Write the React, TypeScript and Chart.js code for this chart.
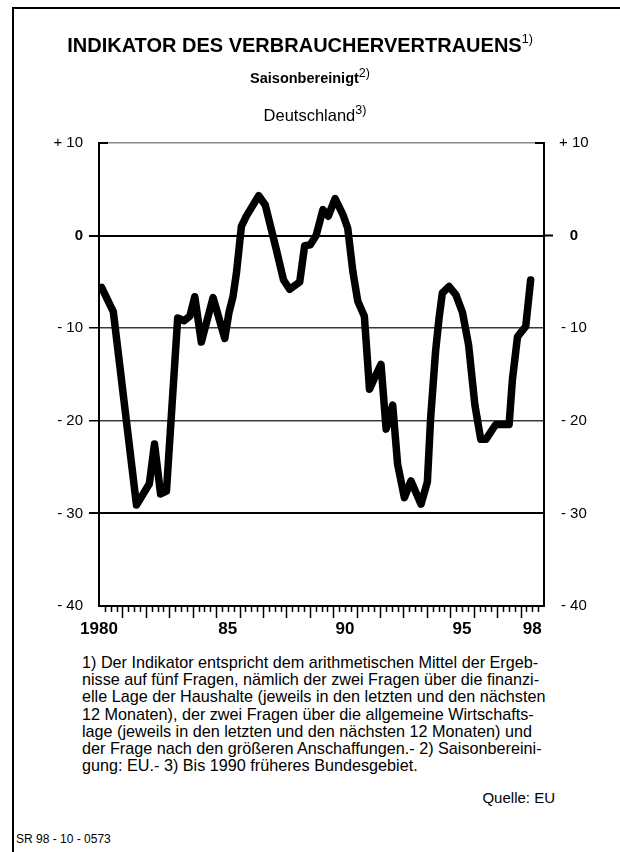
import React, { useEffect, useRef } from "react";
import { Chart, registerables } from "chart.js";

Chart.register(...registerables);

// Decimal-year positions of the traced line vertices
const time = [
  1980.11, 1980.61, 1981.6, 1982.15, 1982.37, 1982.63, 1982.88, 1983.36, 1983.63, 1983.88,
  1984.09, 1984.37, 1984.87, 1985.37, 1985.55, 1985.72, 1985.87, 1986.08, 1986.29, 1986.82,
  1987.1, 1987.57, 1987.88, 1988.14, 1988.57, 1988.78, 1989.02, 1989.27, 1989.56, 1989.79,
  1990.08, 1990.41, 1990.62, 1990.84, 1991.05, 1991.33, 1991.55, 1991.76, 1992.04, 1992.26,
  1992.54, 1992.75, 1993.04, 1993.32, 1993.75, 1994.02, 1994.16, 1994.37, 1994.52, 1994.66,
  1994.95, 1995.24, 1995.52, 1995.78, 1996.05, 1996.3, 1996.52, 1996.94, 1997.51, 1997.65,
  1997.87, 1998.22, 1998.43,
];
const indicator = [
  -5.6, -8.2, -29.1, -26.8, -22.5, -27.9, -27.6, -8.9, -9.2, -8.7,
  -6.6, -11.5, -6.7, -11.1, -8.3, -6.6, -4.0, 1.0, 2.1, 4.3,
  3.3, -1.5, -4.8, -5.8, -5.0, -1.1, -1.0, 0.0, 2.8, 2.1,
  4.0, 2.3, 0.8, -3.9, -7.1, -8.7, -16.6, -15.4, -13.9, -20.9,
  -18.3, -24.7, -28.3, -26.5, -29.0, -26.6, -19.7, -12.5, -8.9, -6.2,
  -5.5, -6.4, -8.3, -11.8, -18.3, -22.0, -22.0, -20.4, -20.4, -15.6,
  -10.9, -9.8, -4.8,
];

const xMin = 1980;
const xMax = 1999;
const yMin = -40;
const yMax = 10;
const yearLabelPositions = [1980.0, 1985.5, 1990.5, 1995.5, 1998.5];
const yearLabels = ["1980", "85", "90", "95", "98"];

const titleText = "INDIKATOR DES VERBRAUCHERVERTRAUENS";
const subtitleText = "Saisonbereinigt";
const regionText = "Deutschland";
const footnoteLines = [
  "1) Der Indikator entspricht dem arithmetischen Mittel der Ergeb-",
  "nisse auf fünf Fragen, nämlich der zwei Fragen über die finanzi-",
  "elle Lage der Haushalte (jeweils in den letzten und den nächsten",
  "12 Monaten), der zwei Fragen über die allgemeine Wirtschafts-",
  "lage (jeweils in den letzten und den nächsten 12 Monaten) und",
  "der Frage nach den größeren Anschaffungen.- 2) Saisonbereini-",
  "gung: EU.- 3) Bis 1990 früheres Bundesgebiet.",
];
const sourceText = "Quelle: EU";
const codeText = "SR 98 - 10 - 0573";

const FONT = "'Liberation Sans', Arial, Helvetica, sans-serif";

function yLabel(v: number): string {
  if (v > 0) return "+ " + v;
  if (v === 0) return "0";
  return "- " + Math.abs(v);
}

const extrasPlugin = {
  id: "extras",
  afterDraw(chart: any) {
    const { ctx, chartArea, scales } = chart;
    const x = scales.x;
    const y = scales.y;
    ctx.save();
    ctx.strokeStyle = "#000";
    ctx.lineWidth = 1.5;
    const n = (xMax - xMin) * 4;
    for (let q = 1; q < n; q++) {
      const px = Math.round(x.getPixelForValue(xMin + q / 4)) + 0.5;
      const len = q % 4 === 0 ? 12 : 6;
      ctx.beginPath();
      ctx.moveTo(px, chartArea.bottom);
      ctx.lineTo(px, chartArea.bottom + len);
      ctx.stroke();
    }
    const py = y.getPixelForValue(yMax);
    ctx.lineWidth = 2;
    ctx.beginPath();
    ctx.moveTo(chartArea.left, py);
    ctx.lineTo(chartArea.left + 9, py);
    ctx.moveTo(chartArea.right - 9, py);
    ctx.lineTo(chartArea.right, py);
    ctx.stroke();
    ctx.restore();
  },
};

function LineChart() {
  const ref = useRef<HTMLCanvasElement | null>(null);
  useEffect(() => {
    if (!ref.current) return;
    const points = time.map((t, i) => ({ x: t, y: indicator[i] }));
    const tickFont = (c: any) => ({
      family: FONT,
      size: 15,
      weight: c.tick && c.tick.value === 0 ? "bold" : "normal",
    });
    const chart = new Chart(ref.current, {
      type: "line",
      data: {
        datasets: [
          {
            data: points,
            borderColor: "#000",
            borderWidth: 7.5,
            pointRadius: 0,
            tension: 0,
            borderJoinStyle: "round",
            borderCapStyle: "round",
          },
        ],
      },
      options: {
        responsive: false,
        maintainAspectRatio: false,
        animation: false,
        devicePixelRatio: 1,
        layout: { padding: { left: 10, right: 10, top: 143, bottom: 4 } },
        plugins: { legend: { display: false }, tooltip: { enabled: false }, title: { display: false } },
        scales: {
          x: {
            type: "linear",
            min: xMin,
            max: xMax,
            grid: { display: false, drawTicks: false },
            border: { display: true, color: "#000", width: 2 },
            afterBuildTicks: (s: any) => {
              s.ticks = yearLabelPositions.map((v) => ({ value: v }));
            },
            afterFit: (s: any) => {
              s.height = 40;
            },
            ticks: {
              autoSkip: false,
              maxRotation: 0,
              padding: 13,
              color: "#000",
              font: { family: FONT, size: 17, weight: "bold" },
              callback: (v: any) => {
                const i = yearLabelPositions.indexOf(Number(v));
                return i >= 0 ? yearLabels[i] : "";
              },
            },
          },
          y: {
            type: "linear",
            position: "left",
            min: yMin,
            max: yMax,
            afterFit: (s: any) => {
              s.width = 89;
            },
            border: { display: true, color: "#000", width: 2 },
            grid: {
              display: true,
              drawOnChartArea: true,
              drawTicks: true,
              tickLength: 10,
              color: (c: any) => {
                const v = c.tick ? c.tick.value : null;
                if (v === yMax) return "#8a8a8a";
                if (v === yMin) return "rgba(0,0,0,0)";
                if (v === 0 || v === -30) return "#000";
                return "#3a3a3a";
              },
              lineWidth: (c: any) => {
                const v = c.tick ? c.tick.value : null;
                return v === 0 || v === -30 ? 2 : 1.5;
              },
              tickColor: (c: any) => {
                const v = c.tick ? c.tick.value : null;
                return v === yMax || v === yMin ? "rgba(0,0,0,0)" : "#000";
              },
            },
            ticks: {
              stepSize: 10,
              padding: 6,
              color: "#000",
              font: tickFont,
              callback: (v: any) => yLabel(Number(v)),
            },
          },
          y2: {
            type: "linear",
            position: "right",
            min: yMin,
            max: yMax,
            afterFit: (s: any) => {
              s.width = 66;
            },
            border: { display: true, color: "#000", width: 2 },
            grid: {
              display: true,
              drawOnChartArea: false,
              drawTicks: true,
              tickLength: 9,
              tickWidth: 2,
              color: "rgba(0,0,0,0)",
              tickColor: (c: any) => (c.tick && c.tick.value === 0 ? "#000" : "rgba(0,0,0,0)"),
            },
            ticks: {
              stepSize: 10,
              padding: 6,
              crossAlign: "center",
              color: "#000",
              font: tickFont,
              callback: (v: any) => yLabel(Number(v)),
            },
          },
        },
      },
      plugins: [extrasPlugin],
    } as any);
    return () => chart.destroy();
  }, []);
  return (
    <canvas
      ref={ref}
      width={620}
      height={650}
      style={{ position: "absolute", left: 0, top: 0, width: 620, height: 650 }}
    />
  );
}

export default function App() {
  const sup = (t: string, top: number, size: number): React.ReactElement => (
    <span style={{ fontSize: size, fontWeight: "normal", position: "relative", top }}>{t}</span>
  );
  return (
    <div
      style={{
        position: "absolute",
        left: 0,
        top: 0,
        width: 620,
        height: 852,
        overflow: "hidden",
        background: "#fff",
        fontFamily: FONT,
        color: "#000",
      }}
    >
      <div
        style={{
          position: "absolute",
          left: 12,
          top: 7,
          width: 608,
          height: 845,
          borderLeft: "2px solid #000",
          borderTop: "2px solid #000",
          boxSizing: "border-box",
        }}
      />
      <LineChart />
      <div
        style={{
          position: "absolute",
          left: 0,
          width: 600,
          top: 35,
          textAlign: "center",
          fontSize: 20,
          lineHeight: "20px",
          fontWeight: "bold",
          whiteSpace: "nowrap",
        }}
      >
        {titleText}
        {sup("1)", -9, 12.5)}
      </div>
      <div
        style={{
          position: "absolute",
          left: 0,
          width: 620,
          top: 70,
          textAlign: "center",
          fontSize: 14.5,
          lineHeight: "16px",
          fontWeight: "bold",
          whiteSpace: "nowrap",
        }}
      >
        {subtitleText}
        {sup("2)", -6, 12.5)}
      </div>
      <div
        style={{
          position: "absolute",
          left: 0,
          width: 630,
          top: 107,
          textAlign: "center",
          fontSize: 16.5,
          lineHeight: "17px",
          whiteSpace: "nowrap",
        }}
      >
        {regionText}
        {sup("3)", -7, 12.5)}
      </div>
      <div style={{ position: "absolute", left: 82, top: 654, fontSize: 16.2, lineHeight: "17.2px" }}>
        {footnoteLines.map((l, i) => (
          <div key={i} style={{ whiteSpace: "nowrap" }}>
            {l}
          </div>
        ))}
      </div>
      <div
        style={{
          position: "absolute",
          right: 620 - 555,
          top: 789,
          fontSize: 15,
          lineHeight: "17px",
          whiteSpace: "nowrap",
        }}
      >
        {sourceText}
      </div>
      <div style={{ position: "absolute", left: 16, top: 832, fontSize: 12, lineHeight: "14px" }}>
        {codeText}
      </div>
    </div>
  );
}
